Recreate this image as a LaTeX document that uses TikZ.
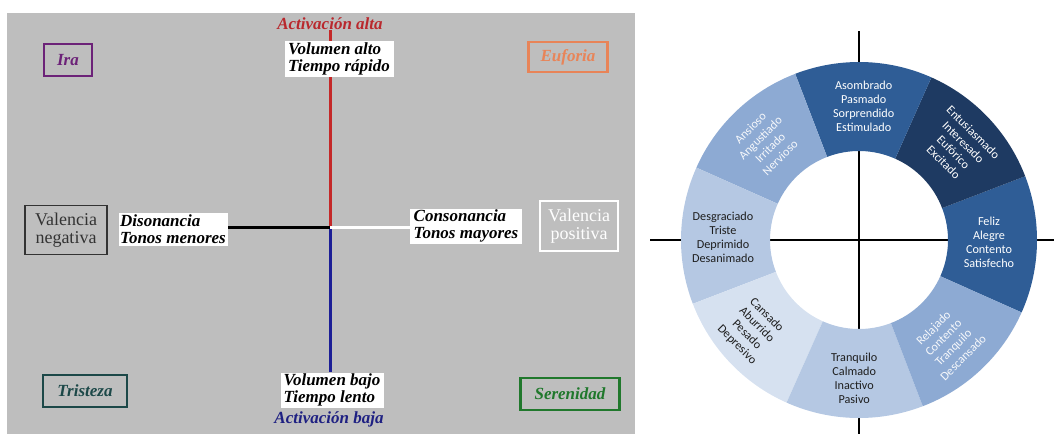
\documentclass[tikz,border=0pt]{standalone}
\usepackage{fontspec}
\newfontfamily\wheelfont{Carlito}
\newfontfamily\serifa{Liberation Serif}
\usetikzlibrary{backgrounds}

\definecolor{fondo}{RGB}{190,190,190}
\definecolor{rojoeje}{RGB}{196,40,40}
\definecolor{azuleje}{RGB}{28,30,150}
\definecolor{txtrojo}{RGB}{185,40,45}
\definecolor{txtazul}{RGB}{30,32,130}
\definecolor{ira}{RGB}{108,34,120}
\definecolor{euforia}{RGB}{232,132,88}
\definecolor{tristeza}{RGB}{28,72,72}
\definecolor{serenidad}{RGB}{32,120,44}
\definecolor{azmed}{RGB}{47,93,150}
\definecolor{azosc}{RGB}{30,58,98}
\definecolor{azcla}{RGB}{141,170,211}
\definecolor{azpal}{RGB}{181,200,227}
\definecolor{azpal2}{RGB}{214,225,240}
\definecolor{txtosc}{RGB}{30,30,30}

\tikzset{
  etiq/.style={fill=white, inner sep=0pt, align=left,
    font=\serifa\fontsize{17}{17}\selectfont\bfseries\itshape},
  activ/.style={inner sep=0pt, font=\serifa\fontsize{17}{17}\selectfont\bfseries\itshape},
  emocion/.style={draw=#1, text=#1, line width=2.6pt, inner sep=0pt,
    font=\serifa\fontsize{17}{17}\selectfont\bfseries\itshape},
  valencia/.style={draw=#1, text=#1, line width=1.8pt, inner sep=0pt, align=center,
    font=\serifa\fontsize{18}{18}\selectfont},
  eje/.style={line width=3pt},
  sector/.style={font=\wheelfont\fontsize{12.2}{14}\selectfont, align=center, inner sep=0pt},
}

\begin{document}
\begin{tikzpicture}[x=1pt, y=-1pt]
  \useasboundingbox (0,0) rectangle (1054,434);

  % panel izquierdo
  \coordinate (centro) at (330,227);
  \node[activ, text=txtrojo] (aalta) at (330,24) {Activación alta};
  \node[activ, text=txtazul] (abaja) at (329,419) {Activación baja};
  \node[etiq, minimum width=109pt, minimum height=36pt] (valto) at (339,59)
    {Volumen alto\\Tiempo rápido};
  \node[etiq, minimum width=103pt, minimum height=35pt] (vbajo) at (332,390)
    {Volumen bajo\\Tiempo lento};
  \node[etiq, minimum width=109pt, minimum height=33pt] (dis) at (173,229)
    {Disonancia\\Tonos menores};
  \node[etiq, minimum width=112pt, minimum height=35pt] (con) at (466,226)
    {Consonancia\\Tonos mayores};
  \node[valencia=black!80, minimum width=82pt, minimum height=49pt] (vneg) at (66,230)
    {Valencia\\negativa};
  \node[valencia=white, minimum width=78pt, minimum height=50pt] (vpos) at (579,226)
    {Valencia\\positiva};
  \node[emocion=ira, minimum width=48pt, minimum height=32pt] (nira) at (68,60) {Ira};
  \node[emocion=euforia, minimum width=79pt, minimum height=30pt] (neuf) at (568,57) {Euforia};
  \node[emocion=tristeza, minimum width=84pt, minimum height=32pt] (ntri) at (85,391) {Tristeza};
  \node[emocion=serenidad, minimum width=99pt, minimum height=32pt] (nser) at (570,394) {Serenidad};

  \begin{scope}[on background layer]
    \fill[fondo] (7,13) rectangle (635,434);
    \draw[eje, rojoeje] (aalta.south) -- (centro);
    \draw[eje, azuleje] (centro) -- (centro |- vbajo.north);
    \draw[eje, black] (centro -| dis.east) -- (centro);
    \draw[eje, white] (centro) -- (centro -| con.west);
  \end{scope}

  % rueda de emociones
  \begin{scope}[shift={(859,240)}, y=1pt]
    \draw[line width=2pt] (-209,0) -- (195,0);
    \draw[line width=2pt] (0,209) -- (0,-194);
    \foreach \a/\c in {-24/azmed, 21/azosc, 66/azmed, 111/azcla,
                       156/azpal, 201/azpal2, 246/azpal, 291/azcla}
      \fill[\c] (\a:178) arc[start angle=\a, end angle=\a+45, radius=178]
        -- (\a+45:89) arc[start angle=\a+45, end angle=\a, radius=89] -- cycle;
    \node[sector, text=white] (asom) at (88:134)
      {Asombrado\\Pasmado\\Sorprendido\\Estimulado};
    \node[sector, text=white, rotate=-45] (entu) at (43:136)
      {Entusiasmado\\Interesado\\Eufórico\\Excitado};
    \node[sector, text=white] (feliz) at (-1:130)
      {Feliz\\Alegre\\Contento\\Satisfecho};
    \node[sector, text=white!92!azcla, rotate=45] (rela) at (-49:136)
      {Relajado\\Contento\\Tranquilo\\Descansado};
    \node[sector, text=txtosc] (tranq) at (-92:138)
      {Tranquilo\\Calmado\\Inactivo\\Pasivo};
    \node[sector, text=txtosc, rotate=-45] (cans) at (-140:140)
      {Cansado\\Aburrido\\Pesado\\Depresivo};
    \node[sector, text=txtosc] (desg) at (179:136)
      {Desgraciado\\Triste\\Deprimido\\Desanimado};
    \node[sector, text=white!92!azcla, rotate=45] (ansi) at (134:135)
      {Ansioso\\Angustiado\\Irritado\\Nervioso};
  \end{scope}
\end{tikzpicture}
\end{document}
